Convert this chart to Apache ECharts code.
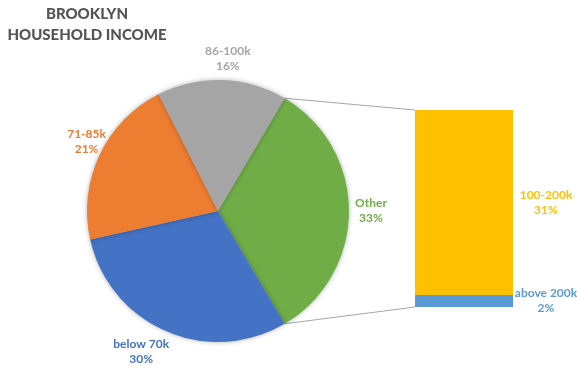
<!DOCTYPE html>
<html><head><meta charset="utf-8">
<script src="https://cdn.jsdelivr.net/npm/echarts@6/dist/echarts.min.js"></script>
<style>html,body{margin:0;padding:0;background:#fff}#c{width:577px;height:371px}</style>
</head><body><div id="c"></div>
<script>
// Pie: main categories (Other = sum of bar categories)
const pieNames = ['Other', 'below 70k', '71-85k', '86-100k'];
const pieValues = [33, 30, 21, 16];
// Bar of pie: breakdown of "Other"
const barNames = ['above 200k', '100-200k'];
const barValues = [2, 31];

// styling
const pieColors = ['#70AD47', '#4472C4', '#ED7D31', '#A5A5A5'];
const barColors = ['#5B9BD5', '#FFC000'];
const labelNudge = [[0, 0], [-16, 0], [7, -4], [5, 1]];
const center = [218, 211], radius = 131, labelDist = 153;
const font = 'Lato, "Open Sans", sans-serif';

const total = pieValues.reduce((a, b) => a + b, 0);
const otherHalfAngle = pieValues[0] / total * 360 / 2;
// mid angles of each slice (math degrees, clockwise from startAngle)
const midAngles = [];
{ let a = otherHalfAngle; pieValues.forEach(v => { const s = v / total * 360; midAngles.push(a - s / 2); a -= s; }); }

const chart = echarts.init(document.getElementById('c'));
const option = {
  animation: false,
  grid: { left: 415, top: 110, width: 98, height: 197 },
  xAxis: { type: 'category', data: ['Other'], show: false },
  yAxis: { type: 'value', min: 0, max: barValues.reduce((a, b) => a + b, 0), show: false },
  graphic: [{
    type: 'text', x: 87, y: 4, z: 10,
    style: { text: 'BROOKLYN\nHOUSEHOLD INCOME', align: 'center', fill: '#555555',
      font: '900 15px ' + font, lineHeight: 21 }
  }],
  series: [
    {
      type: 'pie',
      center: center,
      radius: radius,
      startAngle: otherHalfAngle,
      clockwise: true,
      data: pieNames.map((n, i) => ({
        name: n, value: pieValues[i],
        itemStyle: { color: pieColors[i] },
        label: { color: pieColors[i] }
      })),
      itemStyle: { shadowBlur: 5, shadowColor: 'rgba(0,0,0,0.3)' },
      label: {
        show: true, position: 'outside',
        formatter: p => p.name + '\n' + p.value + '%',
        fontFamily: font, fontWeight: 'bold', fontSize: 12, lineHeight: 15,
        align: 'center'
      },
      labelLine: { show: false },
      labelLayout: p => {
        const a = midAngles[p.dataIndex] * Math.PI / 180;
        const n = labelNudge[p.dataIndex];
        return {
          x: center[0] + labelDist * Math.cos(a) + n[0],
          y: center[1] - labelDist * Math.sin(a) + n[1],
          align: 'center', verticalAlign: 'middle'
        };
      },
      emphasis: { disabled: true }
    }
  ].concat(barNames.map((n, i) => ({
    type: 'bar',
    name: n,
    stack: 'other',
    barWidth: '100%',
    data: [barValues[i]],
    itemStyle: { color: barColors[i] },
    label: {
      show: true, position: 'right', distance: 6,
      formatter: p => n + '\n' + p.value + '%',
      color: barColors[i], fontFamily: font, fontWeight: 'bold', fontSize: 12, lineHeight: 15,
      align: 'center', offset: [27, 0]
    },
    emphasis: { disabled: true }
  })))
};
chart.setOption(option);

// connector lines from pie "Other" edges to bar corners
const rad = otherHalfAngle * Math.PI / 180;
const pTop = [center[0] + radius * Math.cos(rad), center[1] - radius * Math.sin(rad)];
const pBot = [center[0] + radius * Math.cos(rad), center[1] + radius * Math.sin(rad)];
const barTopPx = chart.convertToPixel({ gridIndex: 0 }, [0, barValues.reduce((a, b) => a + b, 0)]);
const barBotPx = chart.convertToPixel({ gridIndex: 0 }, [0, 0]);
const rect = chart.getModel().getComponent('grid', 0).coordinateSystem.getRect();
chart.setOption({
  graphic: [
    option.graphic[0],
    { type: 'line', shape: { x1: pTop[0], y1: pTop[1], x2: rect.x, y2: barTopPx[1] }, style: { stroke: '#A6A6A6', lineWidth: 1 }, z: 0 },
    { type: 'line', shape: { x1: pBot[0], y1: pBot[1], x2: rect.x, y2: barBotPx[1] }, style: { stroke: '#A6A6A6', lineWidth: 1 }, z: 0 }
  ]
});
</script></body></html>
